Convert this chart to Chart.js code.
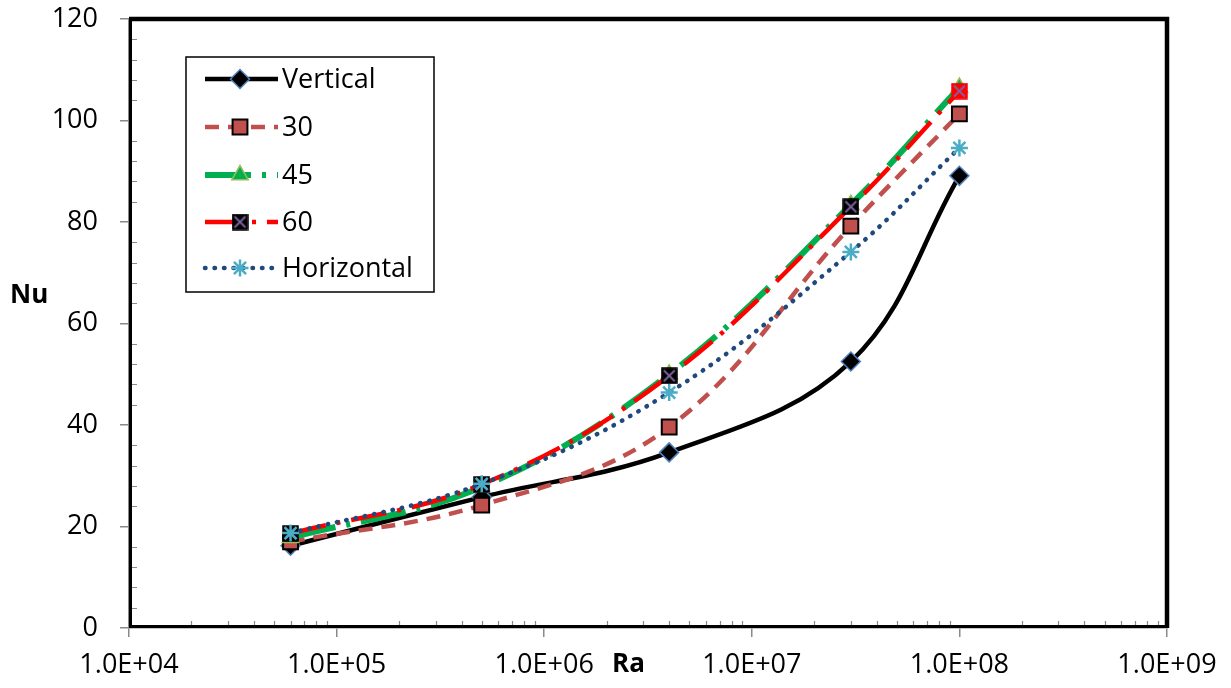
<!DOCTYPE html>
<html>
<head>
<meta charset="utf-8">
<title>Nu vs Ra</title>
<script src="https://cdn.jsdelivr.net/npm/chart.js@4.4.0/dist/chart.umd.min.js"></script>
<style>
    html, body { margin: 0; padding: 0; background: #fff; }
    #nuChart { display: block; }
</style>
</head>
<body>
<canvas id="nuChart" width="1231" height="688"></canvas>
<script>
// Rayleigh numbers and Nusselt numbers per inclination
const raValues = [6e4, 5e5, 4e6, 3e7, 1e8];
const nuVertical = [16.2, 25.8, 34.6, 52.5, 89.1];
const nu30 = [17.0, 24.2, 39.6, 79.2, 101.3];
const nu45 = [17.8, 27.8, 50.0, 83.4, 106.5];
const nu60 = [18.6, 28.3, 49.7, 83.0, 105.8];
const nuHorizontal = [18.7, 28.4, 46.4, 74.1, 94.6];
const seriesLabels = ["Vertical", "30", "45", "60", "Horizontal"];

const xTickValues = [1e4, 1e5, 1e6, 1e7, 1e8, 1e9];
const xTickLabels = ["1.0E+04", "1.0E+05", "1.0E+06", "1.0E+07", "1.0E+08", "1.0E+09"];
const yMin = 0, yMax = 120, yStep = 20;

const FONT = "'Open Sans', sans-serif";

function toPoints(values) {
    return raValues.map((ra, i) => ({ x: ra, y: values[i] }));
}

// black box with purple cross, used by the 60 series
function boxCross(fill, edge) {
    const c = document.createElement("canvas");
    c.width = 17; c.height = 17;
    const g = c.getContext("2d");
    g.fillStyle = fill;
    g.fillRect(1, 1, 15, 15);
    g.strokeStyle = edge;
    g.lineWidth = 1.5;
    g.strokeRect(1, 1, 15, 15);
    g.strokeStyle = "#8064a2";
    g.lineWidth = 1.8;
    g.beginPath();
    g.moveTo(3, 3); g.lineTo(14, 14);
    g.moveTo(14, 3); g.lineTo(3, 14);
    g.stroke();
    return c;
}
const crossBlack = boxCross("#000", "#000");
const crossRed = boxCross("#ff0000", "#ff0000");

const datasets = [
    {
        label: seriesLabels[0], data: toPoints(nuVertical), order: 5,
        borderColor: "#000", borderWidth: 4.5,
        pointStyle: "rectRot", pointRadius: 9.5, pointBorderWidth: 1.5,
        pointBackgroundColor: "#000", pointBorderColor: "#4f81bd"
    },
    {
        label: seriesLabels[1], data: toPoints(nu30), order: 4,
        borderColor: "#c0504d", borderWidth: 4.5, borderDash: [14, 9],
        pointStyle: "rect", pointRadius: 10.5, pointBorderWidth: 2,
        pointBackgroundColor: "#c0504d", pointBorderColor: "#000"
    },
    {
        label: seriesLabels[2], data: toPoints(nu45), order: 3,
        borderColor: "#00b050", borderWidth: 6, borderDash: [46, 11, 4, 11],
        pointStyle: "triangle", pointRadius: 9.5, pointBorderWidth: 1.5,
        pointBackgroundColor: "#00b050", pointBorderColor: "#9bbb59"
    },
    {
        label: seriesLabels[3], data: toPoints(nu60), order: 2,
        borderColor: "#ff0000", borderWidth: 4.5, borderDash: [36, 11, 4, 11],
        pointStyle: [crossBlack, crossBlack, crossBlack, crossBlack, crossRed], pointRadius: 9,
        pointBackgroundColor: "#000", pointBorderColor: "#000"
    },
    {
        label: seriesLabels[4], data: toPoints(nuHorizontal), order: 1,
        borderColor: "#1f497d", borderWidth: 4.5, borderDash: [0.5, 9], borderCapStyle: "round",
        pointStyle: "star", pointRadius: 8.5, pointBorderWidth: 2.5,
        pointBackgroundColor: "#4bacc6", pointBorderColor: "#4bacc6"
    }
];
datasets.forEach(d => { d.tension = 0.38; d.fill = false; });

// frame, minor ticks and the two axis names
const framePlugin = {
    id: "frame",
    beforeDatasetsDraw(chart) {
        const { ctx, chartArea: a, scales } = chart;
        ctx.save();
        ctx.strokeStyle = "#898989";
        ctx.lineWidth = 1.2;
        ctx.beginPath();
        for (let d = 1e4; d < 1e9; d *= 10) {
            for (let m = 2; m <= 9; m++) {
                const x = Math.round(scales.x.getPixelForValue(m * d)) + 0.5;
                ctx.moveTo(x, a.bottom); ctx.lineTo(x, a.bottom - 7);
            }
        }
        for (let v = yMin; v <= yMax; v += 4) {
            if (v % yStep === 0) continue;
            const y = Math.round(scales.y.getPixelForValue(v)) + 0.5;
            ctx.moveTo(a.left, y); ctx.lineTo(a.left + 8, y);
        }
        ctx.stroke();

        ctx.strokeStyle = "#000";
        ctx.lineWidth = 3;
        ctx.beginPath();
        ctx.moveTo(a.left + 1.5, a.top); ctx.lineTo(a.left + 1.5, a.bottom - 1.5);
        ctx.lineTo(a.right, a.bottom - 1.5);
        ctx.stroke();
        ctx.lineWidth = 4.5;
        ctx.beginPath();
        ctx.moveTo(a.left, a.top); ctx.lineTo(a.right, a.top); ctx.lineTo(a.right, a.bottom);
        ctx.stroke();

        ctx.fillStyle = "#000";
        ctx.font = "bold 26px " + FONT;
        ctx.textBaseline = "middle";
        ctx.textAlign = "left";
        ctx.fillText("Nu", 10, 296);
        ctx.fillText("Ra", 612, 665);
        ctx.restore();
    }
};

// boxed legend inside the plot, drawn from each dataset's own styling
const legendPlugin = {
    id: "boxLegend",
    afterDraw(chart) {
        const ctx = chart.ctx;
        const rows = [79, 127, 175, 222, 268];
        ctx.save();
        ctx.fillStyle = "#fff";
        ctx.fillRect(186, 57, 248, 235);
        ctx.strokeStyle = "#000";
        ctx.lineWidth = 1.5;
        ctx.strokeRect(186, 57, 248, 235);

        chart.data.datasets.forEach((ds, i) => {
            const y = rows[i];
            ctx.save();
            ctx.strokeStyle = ds.borderColor;
            ctx.lineWidth = ds.borderWidth;
            ctx.lineCap = ds.borderCapStyle || "butt";
            ctx.setLineDash(ds.borderDash || []);
            ctx.beginPath();
            ctx.moveTo(205, y); ctx.lineTo(278, y);
            ctx.stroke();
            ctx.restore();

            const style = Array.isArray(ds.pointStyle) ? ds.pointStyle[0] : ds.pointStyle;
            ctx.save();
            ctx.fillStyle = ds.pointBackgroundColor;
            ctx.strokeStyle = ds.pointBorderColor;
            ctx.lineWidth = ds.pointBorderWidth || 1;
            Chart.helpers.drawPoint(ctx, {
                pointStyle: style, radius: ds.pointRadius, rotation: 0, borderWidth: ds.pointBorderWidth || 1
            }, 240, y);
            ctx.restore();

            ctx.fillStyle = "#000";
            ctx.font = "27px " + FONT;
            ctx.textBaseline = "middle";
            ctx.textAlign = "left";
            ctx.fillText(ds.label, 282, y + 1);
        });
        ctx.restore();
    }
};

new Chart(document.getElementById("nuChart"), {
    type: "line",
    data: { datasets },
    options: {
        responsive: false,
        animation: false,
        devicePixelRatio: 1,
        layout: { padding: { left: 0, top: 19, right: 64, bottom: 0 } },
        plugins: { legend: { display: false }, tooltip: { enabled: false } },
        scales: {
            x: {
                type: "logarithmic",
                min: xTickValues[0],
                max: xTickValues[xTickValues.length - 1],
                afterBuildTicks: axis => { axis.ticks = xTickValues.map(v => ({ value: v })); },
                afterFit: axis => {
                    axis.height = 60;
                    axis.paddingLeft = 0;
                    axis.paddingRight = 0;
                },
                grid: { drawOnChartArea: false, tickLength: 9, color: "#898989", lineWidth: 1.5 },
                border: { display: true, color: "#898989", width: 1.5 },
                ticks: {
                    autoSkip: false, maxRotation: 0, padding: 12, color: "#000",
                    font: { family: FONT, size: 27 },
                    callback: (v, i) => xTickLabels[i]
                }
            },
            y: {
                min: yMin, max: yMax,
                afterFit: axis => {
                    axis.width = 129;
                    axis.paddingTop = 0;
                    axis.paddingBottom = 0;
                },
                grid: { drawOnChartArea: false, tickLength: 9, color: "#898989", lineWidth: 1.5 },
                border: { display: true, color: "#898989", width: 1.5 },
                ticks: {
                    stepSize: yStep, padding: 22, color: "#000",
                    font: { family: FONT, size: 27 }
                }
            }
        }
    },
    plugins: [framePlugin, legendPlugin]
});
</script>
</body>
</html>
